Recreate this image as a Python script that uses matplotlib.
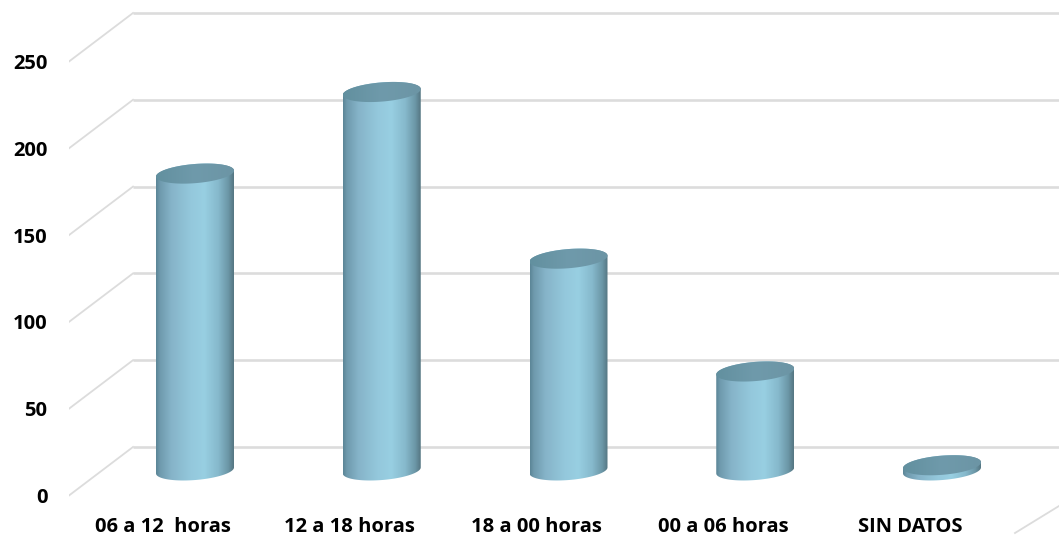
import numpy as np
import matplotlib
matplotlib.use("Agg")
import matplotlib.pyplot as plt
from matplotlib.colors import LinearSegmentedColormap
from matplotlib.patches import PathPatch
from matplotlib.path import Path

categories = ["06 a 12  horas", "12 a 18 horas", "18 a 00 horas", "00 a 06 horas", "SIN DATOS"]
values = [171, 218, 122, 57, 3]
y_ticks = [0, 50, 100, 150, 200, 250]

W, H = 1059, 535
fig = plt.figure(figsize=(W / 100, H / 100), dpi=100)
AX_L, AX_R, AX_T, AX_B = 69, 1059, 0, 510
ax = fig.add_axes([AX_L / W, 1 - AX_B / H, (AX_R - AX_L) / W, (AX_B - AX_T) / H])

PX_PER_CAT = 186.75
PX_PER_VAL = 1.736
X0_PX = 195.0
Y0_PX = 447.0
ax.set_xlim((AX_L - X0_PX) / PX_PER_CAT, (AX_R - X0_PX) / PX_PER_CAT)
ax.set_ylim((Y0_PX - AX_B) / PX_PER_VAL, (Y0_PX - AX_T) / PX_PER_VAL)
xlim, ylim = ax.get_xlim(), ax.get_ylim()

depth_x = 64 / PX_PER_CAT
depth_y = 48.5 / PX_PER_VAL
back_x = xlim[0] + depth_x
GRID = "#dcdcdc"

for v in y_ticks:
    ax.plot([back_x, xlim[1] + 1], [v, v], color=GRID, lw=1.9, zorder=1, solid_capstyle="butt")
    ax.plot([xlim[0], back_x], [v - depth_y, v], color=GRID, lw=1.3, zorder=1)

# lower-right floor edge
ax.plot([xlim[1], xlim[1] - 44 / PX_PER_CAT],
        [-61 / PX_PER_VAL + 2 / PX_PER_VAL, -61 / PX_PER_VAL - 25 / PX_PER_VAL],
        color=GRID, lw=1.3, zorder=1, clip_on=False)

# cylinders
half_w = 39 / PX_PER_CAT
tilt = 3.0 / PX_PER_VAL
minor = 9.6 / PX_PER_VAL
base = -13.5

body_cmap = LinearSegmentedColormap.from_list("body", [
    (0.00, "#5b8596"), (0.05, "#6f9aad"), (0.20, "#86b4c9"), (0.45, "#94c8dc"),
    (0.62, "#98cfe2"), (0.80, "#86b9cc"), (0.93, "#6b96a6"), (1.00, "#557682")])
top_cmap = LinearSegmentedColormap.from_list("top", [
    (0.00, "#62909f"), (0.5, "#6f9aab"), (1.00, "#6c95a5")])
grad = np.linspace(0, 1, 256).reshape(1, -1)

def ellipse(cx, cy, t):
    return cx + half_w * np.cos(t), cy + minor * np.sin(t) + tilt * np.cos(t)

for i, v in enumerate(values):
    top = base + v
    t_low = np.linspace(np.pi, 2 * np.pi, 60)
    bx, by = ellipse(i, base, t_low)
    t_up = np.linspace(0, np.pi, 60)
    tx, ty = ellipse(i, top, t_up)
    pts = np.column_stack([np.r_[bx, tx], np.r_[by, ty]])
    extent = (i - half_w, i + half_w, base - 2 * minor, top + 2 * minor)
    im = ax.imshow(grad, cmap=body_cmap, extent=extent, aspect="auto", zorder=3, interpolation="bilinear")
    clip = PathPatch(Path(np.vstack([pts, pts[0]]), closed=True), transform=ax.transData, fc="none", ec="none")
    ax.add_patch(clip)
    im.set_clip_path(clip)
    t = np.linspace(0, 2 * np.pi, 120)
    cx_, cy_ = ellipse(i, top, t)
    cap_pts = np.column_stack([cx_, cy_])
    im2 = ax.imshow(grad, cmap=top_cmap, extent=extent, aspect="auto", zorder=4, interpolation="bilinear")
    clip2 = PathPatch(Path(np.vstack([cap_pts, cap_pts[0]]), closed=True), transform=ax.transData, fc="none", ec="none")
    ax.add_patch(clip2)
    im2.set_clip_path(clip2)

ax.set_xlim(xlim)
ax.set_ylim(ylim)

FONT = dict(family="Open Sans", fontweight="bold", fontsize=14.5, color="black")
ax.set_yticks([v - depth_y for v in y_ticks])
ax.set_yticklabels([str(v) for v in y_ticks], **FONT)
ax.set_xticks([i - 32 / PX_PER_CAT for i in range(len(categories))])
ax.set_xticklabels(categories, **FONT)
ax.tick_params(axis="both", length=0)
ax.tick_params(axis="y", pad=15.5)
ax.tick_params(axis="x", pad=5)
for s in ax.spines.values():
    s.set_visible(False)

fig.savefig("out.png", dpi=100, facecolor="white")
